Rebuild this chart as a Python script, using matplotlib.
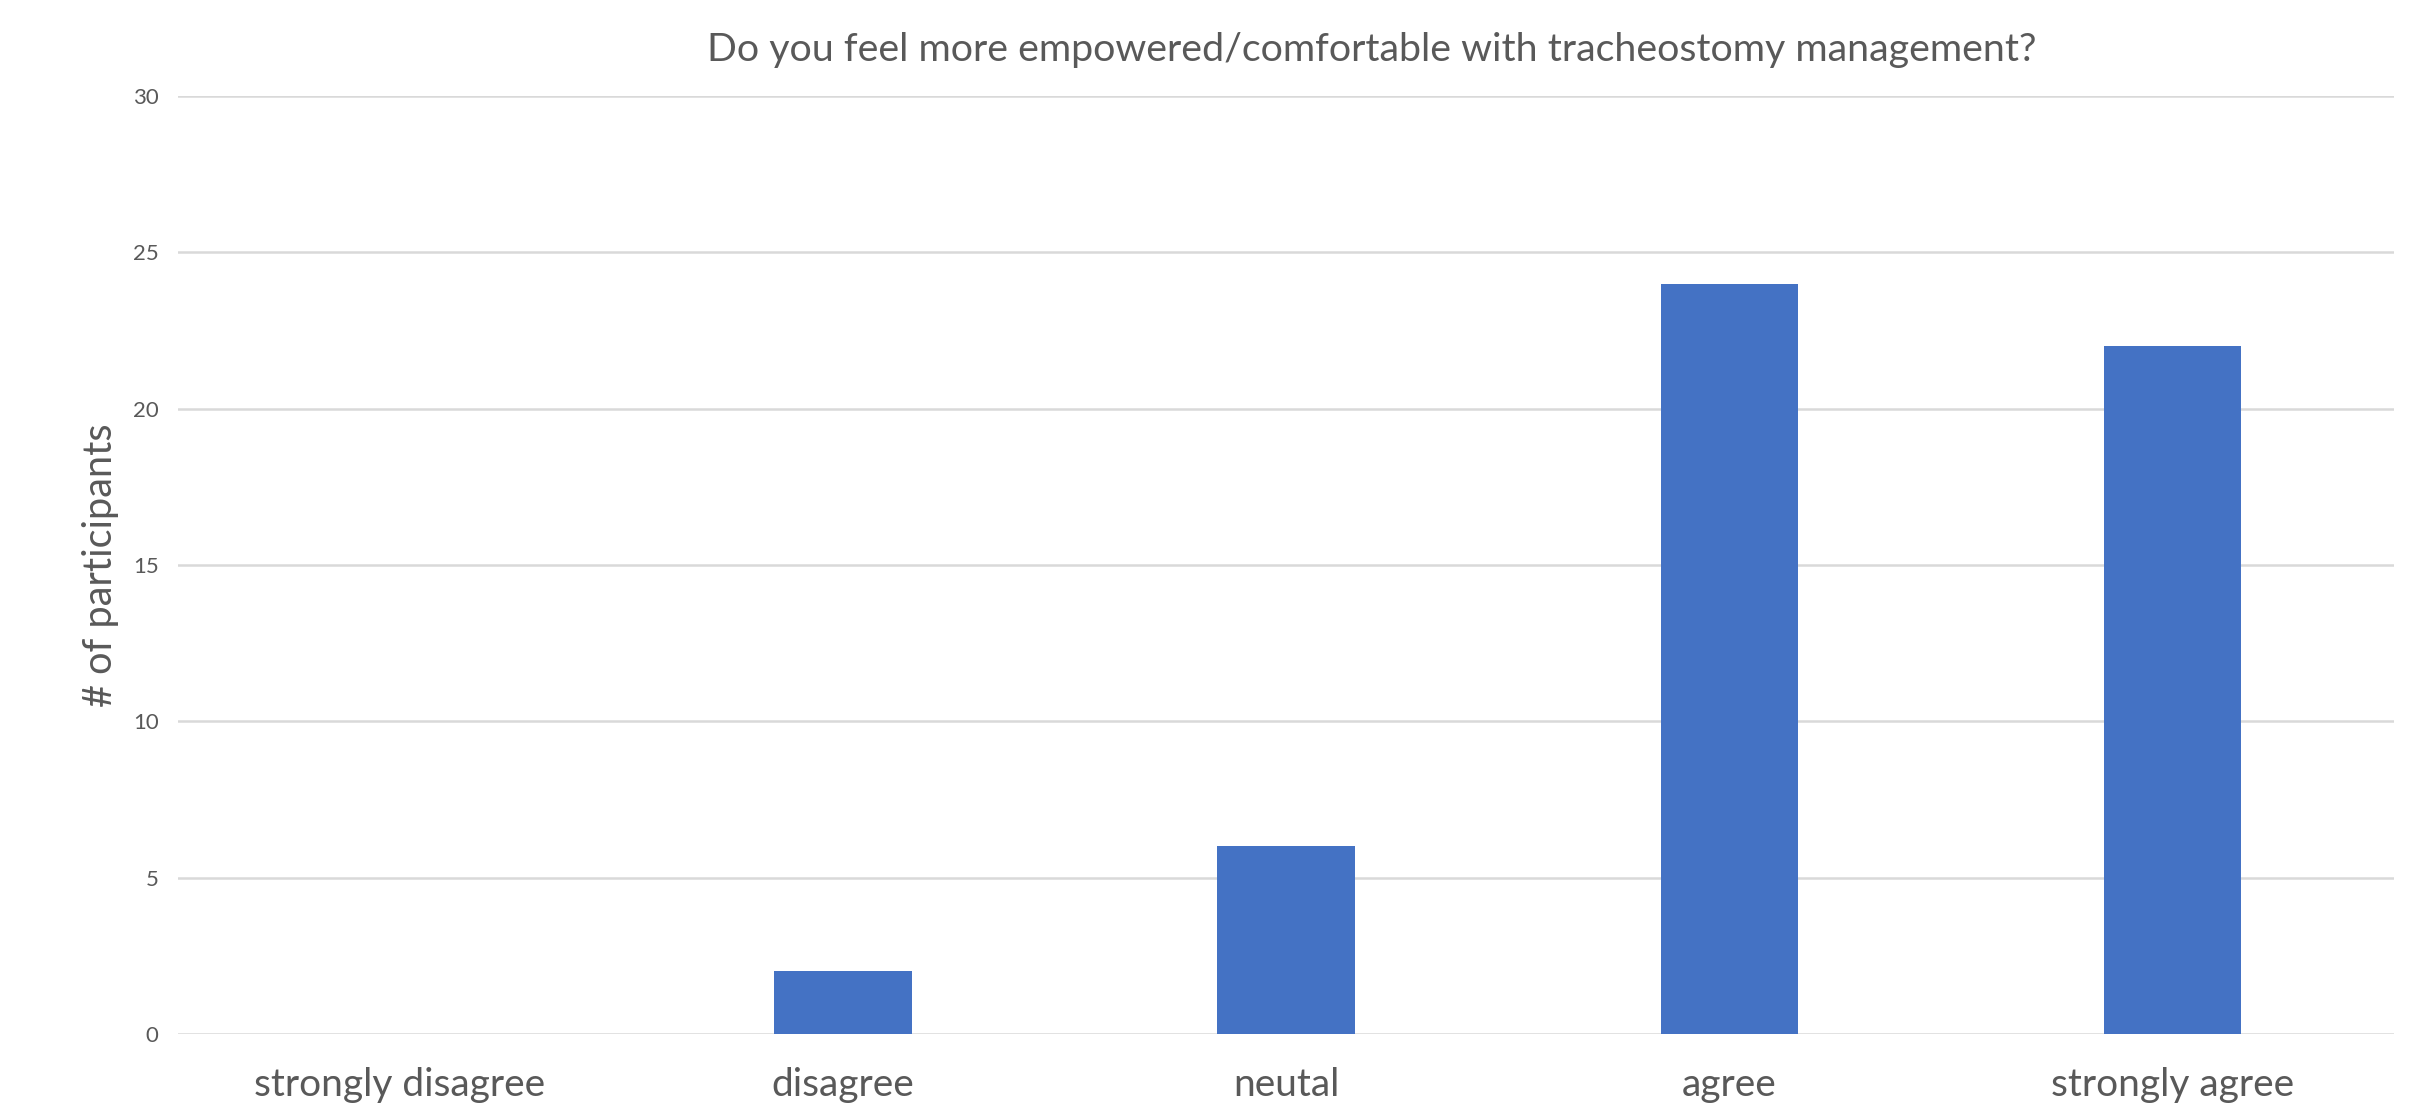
import matplotlib.pyplot as plt

categories = ['strongly disagree', 'disagree', 'neutal', 'agree', 'strongly agree']
counts = [0, 2, 6, 24, 22]
yticks = [0, 5, 10, 15, 20, 25, 30]

title = 'Do you feel more empowered/comfortable with tracheostomy management?'
ylabel = '# of participants'

text_color = '#595959'
bar_color = '#4472C4'
grid_color = '#D9D9D9'

plt.rcParams['font.family'] = ['Lato', 'DejaVu Sans']

fig = plt.figure(figsize=(24.35, 11.17), dpi=100)
ax = fig.add_axes([0.0731, 0.0743, 0.9101, 0.8397])

x = range(len(categories))
ax.bar(x, counts, width=0.31, color=bar_color, zorder=3)

ax.set_xlim(-0.5, len(categories) - 0.5)
ax.set_ylim(0, 30)
ax.set_yticks(yticks)
ax.set_xticks(list(x))
ax.set_xticklabels(categories, fontsize=28, color=text_color)
ax.tick_params(axis='y', labelsize=16, labelcolor=text_color, length=0, pad=14)
ax.tick_params(axis='x', length=0, pad=24)

# horizontal gridlines only, no frame
ax.yaxis.grid(True, color=grid_color, linewidth=1.8, zorder=0)
for s in ax.spines.values():
    s.set_visible(False)

ax.set_ylabel(ylabel, fontsize=28.5, color=text_color, labelpad=10)
fig.text(0.5635, 0.955, title, ha='center', va='center', fontsize=28.4, color=text_color)

fig.savefig('out.png', dpi=100)
